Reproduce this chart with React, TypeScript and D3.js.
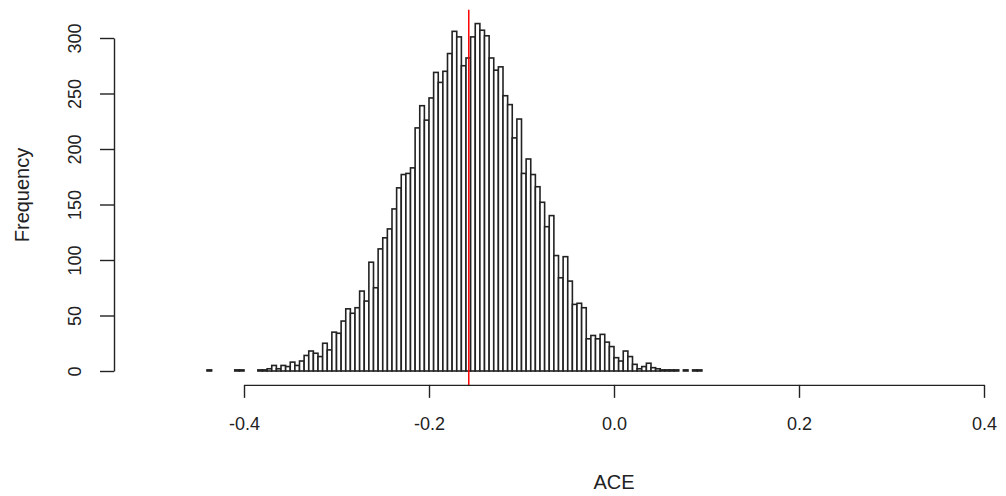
import * as d3 from "d3";
import { useEffect, useRef } from "react";

const width = 1006;
const height = 496;

// histogram of ACE, bins of width 0.005 starting at -0.44
const binStart = -0.44;
const binWidth = 0.005;
const counts = [
  1, 0, 0, 0, 0, 0, 1, 1, 0, 0,
  0, 1, 1, 2, 5, 2, 5, 4, 8, 5,
  9, 14, 18, 16, 13, 25, 19, 35, 34, 45,
  56, 52, 57, 72, 63, 98, 75, 110, 120, 128,
  146, 165, 177, 178, 183, 219, 239, 226, 246, 269,
  260, 270, 286, 306, 301, 275, 282, 301, 313, 307,
  302, 282, 271, 274, 248, 240, 210, 227, 178, 191,
  177, 166, 152, 130, 140, 104, 84, 103, 81, 60,
  61, 57, 29, 32, 29, 33, 26, 22, 12, 9,
  18, 13, 6, 2, 4, 7, 3, 2, 1, 1,
  1, 1, 0, 1, 0, 1, 1,
];
const meanAce = -0.157;
const xTicks = [-0.4, -0.2, 0, 0.2, 0.4];
const yTicks = [0, 50, 100, 150, 200, 250, 300];

const font = "'Liberation Sans', Arial, sans-serif";

const Histogram = () => {
  const ref = useRef<SVGSVGElement | null>(null);

  useEffect(() => {
    if (!ref.current) return;
    const svg = d3.select(ref.current);
    svg.selectAll("*").remove();

    const x = d3.scaleLinear().domain([-0.4, 0.4]).range([244, 984]);
    const y = d3.scaleLinear().domain([0, 300]).range([371, 38]);

    const bins = counts.map((c, i) => ({
      x0: binStart + i * binWidth,
      x1: binStart + (i + 1) * binWidth,
      count: c,
    }));

    svg
      .append("g")
      .selectAll("rect")
      .data(bins.filter((d) => d.count > 0))
      .join("rect")
      .attr("x", (d) => x(d.x0))
      .attr("y", (d) => y(d.count))
      .attr("width", (d) => x(d.x1) - x(d.x0))
      .attr("height", (d) => y(0) - y(d.count))
      .attr("fill", "#fff")
      .attr("stroke", "#222")
      .attr("stroke-width", 1.6);

    // mean line
    svg
      .append("line")
      .attr("x1", x(meanAce))
      .attr("x2", x(meanAce))
      .attr("y1", y(325.5))
      .attr("y2", y(-12.5))
      .attr("stroke", "#ff0000")
      .attr("stroke-width", 1.5);

    const gx = svg
      .append("g")
      .attr("transform", `translate(0, ${y(-12.5)})`)
      .call(
        d3
          .axisBottom(x)
          .tickValues(xTicks)
          .tickSize(13)
          .tickSizeOuter(0)
          .tickFormat((d) => (+d).toFixed(1))
      );
    gx.select(".domain").attr("stroke", "#222").attr("stroke-width", 1.4);
    gx.selectAll(".tick line").attr("stroke", "#222").attr("stroke-width", 1.4);
    gx.selectAll(".tick text")
      .attr("y", 39)
      .attr("dy", "0.35em")
      .attr("fill", "#222")
      .style("font-size", "18px")
      .style("font-family", font);

    const gy = svg
      .append("g")
      .attr("transform", `translate(114, 0)`)
      .call(
        d3
          .axisLeft(y)
          .tickValues(yTicks)
          .tickSize(14)
          .tickSizeOuter(0)
          .tickFormat((d) => String(d))
      );
    gy.select(".domain").attr("stroke", "#222").attr("stroke-width", 1.4);
    gy.selectAll(".tick line").attr("stroke", "#222").attr("stroke-width", 1.4);
    gy.selectAll(".tick text")
      .attr("x", null)
      .attr("dy", "0.35em")
      .attr("transform", "translate(-39, 0) rotate(-90)")
      .attr("text-anchor", "middle")
      .attr("fill", "#222")
      .style("font-size", "18px")
      .style("font-family", font);

    svg
      .append("text")
      .attr("x", 614)
      .attr("y", 482)
      .attr("dy", "0.35em")
      .attr("text-anchor", "middle")
      .attr("fill", "#222")
      .style("font-size", "20px")
      .style("font-family", font)
      .text("ACE");

    svg
      .append("text")
      .attr("transform", `translate(22, 195) rotate(-90)`)
      .attr("dy", "0.35em")
      .attr("text-anchor", "middle")
      .attr("fill", "#222")
      .style("font-size", "20px")
      .style("font-family", font)
      .text("Frequency");
  }, []);

  return (
    <svg
      ref={ref}
      width={width}
      height={height}
      style={{ position: "absolute", left: 0, top: 0, background: "#fff" }}
    />
  );
};

export default function App() {
  return <Histogram />;
}
